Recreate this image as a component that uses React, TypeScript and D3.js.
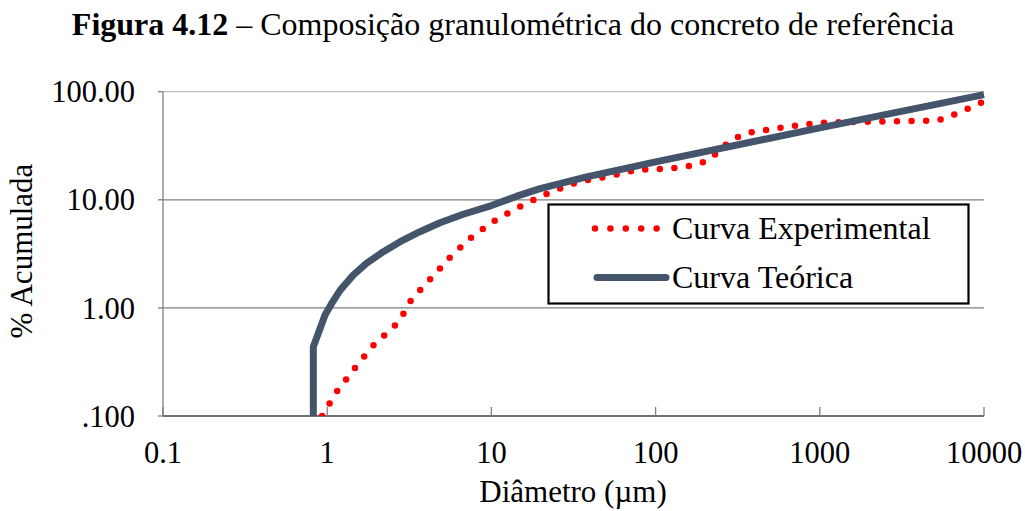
import React from "react";
import * as d3 from "d3";

// ---- Data ----
const expDiam = [0.93, 1.15, 1.48, 1.91, 2.62, 2.95, 3.25, 4.31, 5.7, 7.73, 10.9, 15.7, 22.9, 33.9, 51.5, 77.3, 117, 177, 213, 286, 349, 525, 972, 1830, 5250, 6380, 9330, 10000];
const expPct = [0.1, 0.17, 0.28, 0.45, 0.7, 0.91, 1.19, 1.89, 3.03, 4.64, 6.69, 9.0, 11.8, 14.7, 16.4, 19.0, 19.3, 21.0, 23.6, 35.3, 41.0, 45.6, 51.5, 52.7, 54.1, 60.2, 77.5, 82];

const theoDiam = [0.823, 0.823, 0.883, 0.97, 1.065, 1.2, 1.44, 1.74, 2.2, 2.78, 3.67, 4.86, 6.74, 10, 14.3, 19.8, 38, 100, 1000, 10000];
const theoPct = [0.1, 0.438, 0.583, 0.86, 1.1, 1.46, 2.01, 2.59, 3.31, 4.1, 5.07, 6.14, 7.35, 8.85, 10.8, 12.7, 16.3, 22.4, 46.3, 94];

const xTicks = [0.1, 1, 10, 100, 1000, 10000];
const xTickLabels = ["0.1", "1", "10", "100", "1000", "10000"];
const yTicks = [0.1, 1, 10, 100];
const yTickLabels = [".100", "1.00", "10.00", "100.00"];

const seriesNames = ["Curva Experimental", "Curva Teórica"];
const titleBold = "Figura 4.12";
const titleRest = " – Composição granulométrica do concreto de referência";
const xTitle = "Diâmetro (µm)";
const yTitle = "% Acumulada";

const W = 1025;
const H = 511;
const FONT = "'Liberation Serif', 'Times New Roman', serif";

export default function App() {
  const x = d3.scaleLog().domain([0.1, 10000]).range([163, 984]);
  const y = d3.scaleLog().domain([0.1, 100]).range([416, 91.7]);

  const line = d3
    .line<[number, number]>()
    .x((d) => x(d[0]))
    .y((d) => y(d[1]));

  const expPath = line(expDiam.map((d, i) => [d, expPct[i]]) as [number, number][]) || "";
  const theoPath = line(theoDiam.map((d, i) => [d, theoPct[i]]) as [number, number][]) || "";

  const [x0, x1] = x.range();
  const [yb, yt] = y.range();

  return (
    <svg
      width={W}
      height={H}
      style={{ position: "absolute", left: 0, top: 0, background: "#fff" }}
      fontFamily={FONT}
    >
      <defs>
        <clipPath id="plotClip">
          <rect x={x0 - 10} y={yt - 10} width={x1 - x0 + 20} height={yb - yt + 10} />
        </clipPath>
      </defs>

      {/* Title */}
      <text x={513} y={35} textAnchor="middle" fontSize={32} fill="#000">
        <tspan fontWeight="bold">{titleBold}</tspan>
        <tspan>{titleRest}</tspan>
      </text>

      {/* Gridlines */}
      {yTicks.slice(1).map((t, i) => (
        <line
          key={"g" + i}
          x1={x0}
          x2={x1}
          y1={y(t)}
          y2={y(t)}
          stroke={t === 100 ? "#bdbdbd" : "#7f7f7f"}
          strokeWidth={1.3}
        />
      ))}

      {/* Y axis */}
      <line x1={x0} x2={x0} y1={yt} y2={yb} stroke="#7f7f7f" strokeWidth={1.3} />
      {yTicks.map((t, i) => (
        <g key={"yt" + i}>
          <line x1={x0 - 5} x2={x0} y1={y(t)} y2={y(t)} stroke="#7f7f7f" strokeWidth={1.3} />
          <text x={135} y={y(t)} dy="0.35em" textAnchor="end" fontSize={30.5} fill="#000">
            {yTickLabels[i]}
          </text>
        </g>
      ))}

      {/* X axis */}
      <line x1={x0} x2={x1} y1={yb} y2={yb} stroke="#404040" strokeWidth={1.3} />
      {xTicks.map((t, i) => (
        <g key={"xt" + i}>
          <line x1={x(t)} x2={x(t)} y1={yb} y2={yb - 9} stroke="#7f7f7f" strokeWidth={1.3} />
          <text x={x(t)} y={463} textAnchor="middle" fontSize={30.5} fill="#000">
            {xTickLabels[i]}
          </text>
        </g>
      ))}

      {/* Axis titles */}
      <text x={573} y={502} textAnchor="middle" fontSize={31} fill="#000">
        {xTitle}
      </text>
      <text
        transform={`translate(32, 251) rotate(-90)`}
        textAnchor="middle"
        fontSize={31}
        fill="#000"
      >
        {yTitle}
      </text>

      {/* Series */}
      <g clipPath="url(#plotClip)">
        <path
          d={expPath}
          fill="none"
          stroke="#ff0000"
          strokeWidth={6.5}
          strokeLinecap="round"
          strokeDasharray="0 14.6"
        />
        <path d={theoPath} fill="none" stroke="#44546a" strokeWidth={7} strokeLinejoin="round" />
      </g>

      {/* Legend */}
      <g>
        <rect x={548.5} y={204.5} width={420} height={99} fill="#fff" stroke="#000" strokeWidth={2.2} />
        <line
          x1={595}
          x2={657}
          y1={228.5}
          y2={228.5}
          stroke="#ff0000"
          strokeWidth={6.5}
          strokeLinecap="round"
          strokeDasharray="0 15.4"
        />
        <text x={672} y={239} fontSize={32} fill="#000">
          {seriesNames[0]}
        </text>
        <line x1={597} x2={666} y1={277.5} y2={277.5} stroke="#44546a" strokeWidth={7} strokeLinecap="round" />
        <text x={672} y={288} fontSize={32} fill="#000">
          {seriesNames[1]}
        </text>
      </g>
    </svg>
  );
}
